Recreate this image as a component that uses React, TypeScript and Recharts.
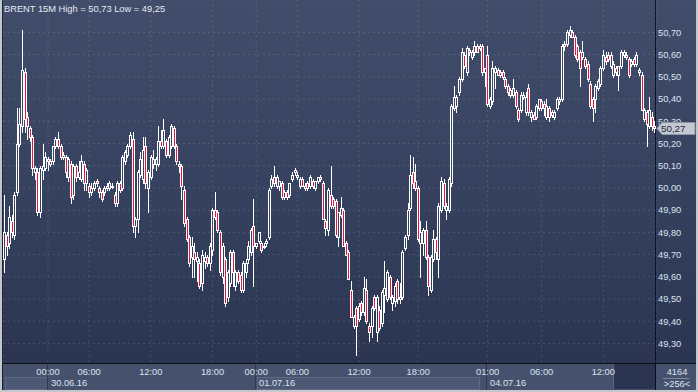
import { ComposedChart, Bar, XAxis, YAxis, CartesianGrid } from 'recharts'

// BRENT 15M candles, [open, high, low, close]
const DAY_29 = [
  [49.68, 49.97, 49.62, 49.8], [49.79, 49.8, 49.7, 49.74], [49.75, 49.92, 49.73, 49.87], [49.85, 49.88, 49.78, 49.8],
  [49.79, 49.98, 49.77, 49.97], [49.98, 50.36, 49.97, 50.2], [50.2, 50.36, 50.19, 50.29], [50.28, 50.71, 50.25, 50.53],
  [50.52, 50.54, 50.25, 50.31], [50.32, 50.34, 50.22, 50.28], [50.27, 50.28, 50.21, 50.23], [50.23, 50.24, 50.06, 50.09],
  [50.07, 50.1, 50.04, 50.09], [50.07, 50.09, 49.88, 49.89], [49.89, 50.1, 49.87, 50.09], [50.08, 50.2, 50.04, 50.1],
  [50.09, 50.16, 50.08, 50.14],
]

const DAY_30 = [
  [50.13, 50.14, 50.08, 50.12], [50.11, 50.13, 50.1, 50.12], [50.12, 50.19, 50.11, 50.19], [50.19, 50.23, 50.18, 50.22],
  [50.22, 50.25, 50.18, 50.19], [50.19, 50.2, 50.13, 50.14], [50.14, 50.16, 50.13, 50.15], [50.14, 50.15, 50.05, 50.07],
  [50.05, 50.14, 50.03, 50.13], [50.11, 50.12, 49.93, 49.96], [49.97, 50.11, 49.95, 50.1], [50.1, 50.11, 50.03, 50.05],
  [50.05, 50.12, 50.04, 50.07], [50.04, 50.15, 50.03, 50.12], [50.11, 50.12, 49.99, 50.02], [50.02, 50.09, 49.99, 50.08],
  [50.01, 50.02, 49.96, 49.98], [49.98, 50.02, 49.97, 50.0], [50.0, 50.03, 49.99, 50.02], [50.03, 50.04, 50.01, 50.02],
  [50.0, 50.01, 49.96, 49.98], [49.98, 49.99, 49.94, 49.95], [49.98, 50.01, 49.97, 50.0], [50.01, 50.02, 49.99, 50.0],
  [50.0, 50.03, 49.99, 50.02], [50.01, 50.02, 50.0, 50.01], [49.97, 49.98, 49.92, 49.93], [49.93, 50.03, 49.92, 50.02],
  [50.02, 50.03, 49.98, 49.99], [50.0, 50.15, 49.99, 50.14], [50.12, 50.17, 50.11, 50.16], [50.15, 50.2, 50.14, 50.19],
  [50.19, 50.25, 50.18, 50.24], [50.22, 50.25, 49.8, 49.83], [49.83, 49.87, 49.78, 49.86], [49.86, 50.08, 49.8, 50.07],
  [50.06, 50.16, 50.05, 50.13], [50.04, 50.23, 50.02, 50.17], [50.19, 50.23, 50.0, 50.02], [50.0, 50.08, 49.89, 50.07],
  [50.05, 50.15, 50.04, 50.14], [50.11, 50.17, 50.09, 50.13], [50.11, 50.14, 50.08, 50.13], [50.11, 50.28, 50.1, 50.21],
  [50.21, 50.26, 50.18, 50.19], [50.19, 50.31, 50.18, 50.26], [50.21, 50.22, 50.14, 50.15], [50.15, 50.24, 50.14, 50.23],
  [50.19, 50.29, 50.18, 50.28], [50.27, 50.28, 50.18, 50.19], [50.19, 50.2, 50.11, 50.12], [50.11, 50.12, 50.07, 50.1],
  [50.1, 50.11, 49.95, 50.01], [49.99, 50.01, 49.83, 49.84], [49.86, 49.87, 49.76, 49.77], [49.78, 49.79, 49.65, 49.66],
  [49.69, 49.78, 49.6, 49.74], [49.71, 49.75, 49.6, 49.68], [49.67, 49.71, 49.58, 49.69], [49.66, 49.68, 49.55, 49.56],
  [49.57, 49.72, 49.54, 49.7], [49.67, 49.71, 49.64, 49.69], [49.69, 49.7, 49.65, 49.66], [49.66, 49.75, 49.63, 49.74],
  [49.72, 49.91, 49.7, 49.9], [49.9, 49.98, 49.86, 49.87], [49.89, 49.9, 49.8, 49.81], [49.8, 49.81, 49.61, 49.62],
  [49.6, 49.75, 49.57, 49.74], [49.68, 49.69, 49.47, 49.48], [49.51, 49.63, 49.49, 49.62], [49.57, 49.72, 49.56, 49.71],
  [49.71, 49.72, 49.56, 49.62], [49.56, 49.63, 49.54, 49.62], [49.62, 49.63, 49.57, 49.58], [49.61, 49.62, 49.53, 49.54],
  [49.54, 49.67, 49.53, 49.66], [49.62, 49.68, 49.6, 49.66], [49.68, 49.76, 49.66, 49.74], [49.71, 49.82, 49.7, 49.81],
  [49.83, 49.95, 49.56, 49.74],
]

const DAY_01 = [
  [49.74, 49.75, 49.73, 49.75], [49.76, 49.8, 49.75, 49.8], [49.75, 49.76, 49.71, 49.72], [49.74, 49.75, 49.73, 49.74],
  [49.75, 49.77, 49.74, 49.76], [49.78, 50.0, 49.77, 49.99], [50.01, 50.06, 50.0, 50.04], [50.05, 50.1, 50.01, 50.02],
  [50.01, 50.06, 50.0, 50.05], [50.01, 50.03, 49.99, 50.03], [50.02, 50.03, 49.95, 49.96], [49.96, 49.99, 49.95, 49.98],
  [49.98, 49.99, 49.95, 49.96], [49.97, 50.02, 49.96, 50.02], [50.04, 50.07, 50.03, 50.06], [50.07, 50.09, 50.06, 50.08],
  [50.05, 50.07, 50.04, 50.06], [50.01, 50.05, 50.0, 50.04], [50.04, 50.05, 50.01, 50.01], [50.0, 50.02, 49.99, 50.01],
  [50.02, 50.03, 49.99, 50.0], [50.01, 50.06, 50.0, 50.05], [50.03, 50.04, 50.0, 50.01], [50.0, 50.03, 49.99, 50.03],
  [50.03, 50.05, 50.02, 50.05], [50.05, 50.06, 50.03, 50.04], [50.02, 50.03, 49.86, 49.86], [49.85, 49.86, 49.79, 49.82],
  [49.81, 50.0, 49.79, 49.99], [49.97, 50.1, 49.91, 49.92], [49.95, 49.96, 49.91, 49.92], [49.94, 49.95, 49.78, 49.79],
  [49.78, 49.89, 49.74, 49.89], [49.88, 49.96, 49.87, 49.91], [49.9, 49.91, 49.74, 49.74], [49.75, 49.76, 49.7, 49.7],
  [49.71, 49.72, 49.59, 49.59], [49.54, 49.58, 49.42, 49.42], [49.38, 49.43, 49.37, 49.42], [49.46, 49.47, 49.25, 49.38],
  [49.41, 49.48, 49.4, 49.47], [49.48, 49.49, 49.43, 49.44], [49.44, 49.6, 49.43, 49.55], [49.54, 49.59, 49.39, 49.4],
  [49.38, 49.39, 49.31, 49.35], [49.38, 49.47, 49.33, 49.46], [49.51, 49.52, 49.45, 49.46], [49.35, 49.52, 49.31, 49.51],
  [49.45, 49.47, 49.36, 49.37], [49.39, 49.54, 49.38, 49.53], [49.52, 49.67, 49.44, 49.55], [49.5, 49.63, 49.49, 49.62],
  [49.6, 49.61, 49.5, 49.51], [49.48, 49.52, 49.45, 49.51], [49.49, 49.57, 49.47, 49.56], [49.58, 49.59, 49.48, 49.5],
  [49.5, 49.57, 49.48, 49.51], [49.51, 49.72, 49.5, 49.71], [49.73, 49.79, 49.72, 49.78], [49.79, 49.93, 49.77, 49.9],
  [49.91, 50.15, 49.9, 50.06], [50.07, 50.14, 50.0, 50.02], [50.03, 50.11, 49.99, 50.0], [50.0, 50.01, 49.76, 49.77],
  [49.75, 49.85, 49.6, 49.8], [49.75, 49.82, 49.7, 49.81], [49.81, 49.85, 49.68, 49.69], [49.69, 49.7, 49.52, 49.56],
  [49.54, 49.7, 49.53, 49.69], [49.68, 49.81, 49.67, 49.77], [49.77, 49.78, 49.68, 49.71], [49.68, 49.93, 49.6, 49.92],
  [49.9, 50.05, 49.89, 50.03], [50.02, 50.04, 49.91, 49.92], [49.9, 49.93, 49.86, 49.92], [49.9, 50.05, 49.89, 50.04],
  [50.02, 50.38, 50.01, 50.37], [50.36, 50.46, 50.35, 50.41], [50.37, 50.42, 50.34, 50.41], [50.43, 50.5, 50.42, 50.49],
  [50.49, 50.63, 50.48, 50.61], [50.6, 50.61, 50.54, 50.55], [50.52, 50.64, 50.51, 50.63], [50.62, 50.63, 50.6, 50.61],
  [50.59, 50.62, 50.58, 50.61], [50.61, 50.66, 50.6, 50.64], [50.64, 50.65, 50.61, 50.61], [50.63, 50.65, 50.62, 50.64],
  [50.64, 50.65, 50.51, 50.52], [50.52, 50.54, 50.46, 50.54],
]

const DAY_04 = [
  [50.6, 50.64, 50.37, 50.38], [50.37, 50.41, 50.36, 50.4], [50.39, 50.57, 50.38, 50.54], [50.52, 50.55, 50.45, 50.54],
  [50.53, 50.54, 50.51, 50.51], [50.51, 50.53, 50.5, 50.52], [50.52, 50.53, 50.49, 50.5], [50.49, 50.5, 50.45, 50.46],
  [50.46, 50.47, 50.42, 50.43], [50.42, 50.45, 50.41, 50.44], [50.42, 50.49, 50.41, 50.45], [50.43, 50.44, 50.36, 50.37],
  [50.35, 50.36, 50.3, 50.31], [50.35, 50.43, 50.34, 50.42], [50.41, 50.43, 50.4, 50.42], [50.34, 50.43, 50.33, 50.41],
  [50.45, 50.47, 50.33, 50.34], [50.32, 50.35, 50.3, 50.34], [50.33, 50.34, 50.31, 50.31], [50.32, 50.38, 50.31, 50.37],
  [50.36, 50.4, 50.35, 50.4], [50.39, 50.4, 50.35, 50.36], [50.38, 50.39, 50.33, 50.36], [50.32, 50.4, 50.31, 50.37],
  [50.36, 50.37, 50.3, 50.32], [50.33, 50.35, 50.32, 50.34], [50.32, 50.35, 50.31, 50.34], [50.36, 50.41, 50.35, 50.4],
  [50.39, 50.41, 50.38, 50.4], [50.4, 50.65, 50.39, 50.64], [50.65, 50.66, 50.62, 50.64], [50.65, 50.71, 50.64, 50.7],
  [50.69, 50.73, 50.68, 50.71], [50.7, 50.71, 50.68, 50.68], [50.68, 50.69, 50.59, 50.6], [50.64, 50.65, 50.57, 50.58],
  [50.61, 50.62, 50.46, 50.54], [50.59, 50.66, 50.58, 50.61], [50.58, 50.59, 50.54, 50.55], [50.56, 50.57, 50.48, 50.49],
  [50.47, 50.48, 50.36, 50.37], [50.4, 50.41, 50.3, 50.36], [50.4, 50.47, 50.34, 50.46], [50.45, 50.49, 50.44, 50.48],
  [50.47, 50.55, 50.46, 50.54], [50.54, 50.62, 50.53, 50.6], [50.59, 50.61, 50.56, 50.57], [50.6, 50.61, 50.57, 50.58],
  [50.55, 50.61, 50.54, 50.6], [50.51, 50.57, 50.5, 50.56], [50.54, 50.55, 50.51, 50.52], [50.51, 50.55, 50.44, 50.55],
  [50.55, 50.62, 50.54, 50.61], [50.6, 50.62, 50.59, 50.61], [50.6, 50.61, 50.58, 50.59], [50.58, 50.59, 50.5, 50.51],
  [50.56, 50.58, 50.55, 50.57], [50.58, 50.59, 50.55, 50.56], [50.56, 50.61, 50.55, 50.6], [50.52, 50.54, 50.51, 50.53],
  [50.51, 50.52, 50.35, 50.35], [50.31, 50.36, 50.3, 50.35], [50.34, 50.35, 50.19, 50.29], [50.28, 50.41, 50.27, 50.35],
  [50.32, 50.34, 50.26, 50.28], [50.28, 50.3, 50.25, 50.27],
]

const Y_TICKS = [49.3, 49.4, 49.5, 49.6, 49.7, 49.8, 49.9, 50.0, 50.1, 50.2, 50.3, 50.4, 50.5, 50.6, 50.7]
const LAST_CLOSE = 50.27

// candle index of each time label on the bottom axis
const TIME_TICKS = [17, 33, 57, 81, 98, 114, 138, 161, 188, 209, 233]
const TIME_LABELS = ['00:00', '06:00', '12:00', '18:00', '00:00', '06:00', '12:00', '18:00', '01:00', '06:00', '12:00']
const DAY_STARTS = [17, 98, 188]
const DAY_LABELS = ['30.06.16', '01.07.16', '04.07.16']
// shaded date boxes, in candle indexes [from, to]
const DATE_BOXES = [[0, 17], [98, 185]]

const candles = [...DAY_29, ...DAY_30, ...DAY_01, ...DAY_04].map(([o, h, l, c], i) => ({ i, o, h, l, c }))

const W = 698
const H = 392
const PLOT_L = 3
const PLOT_R = 656
const BAND = (PLOT_R - PLOT_L) / candles.length
const FONT = '"Liberation Sans", Arial, sans-serif'
const FS = 9.3
const TEXT = '#dbe3f0'
const RED = '#e3173e'
const WICK = '#ffffff'

const fmt = (v: number) => v.toFixed(2).replace('.', ',')

function Candle(props: any) {
  const { x, y, width, height, payload } = props
  if (!payload) return null
  const { o, h, l, c } = payload
  const top = Math.min(y, y + height)
  const px = Math.abs(height) / (h - l)
  const toY = (v: number) => Math.round(top + (h - v) * px)
  const cx = Math.floor(x + width / 2)
  const yH = toY(h)
  const yL = toY(l)
  const b1 = Math.min(toY(o), toY(c))
  const b2 = Math.max(toY(o), toY(c))
  return (
    <g shapeRendering="crispEdges">
      {b1 > yH && <line x1={cx + 0.5} x2={cx + 0.5} y1={yH} y2={b1} stroke={WICK} />}
      {yL > b2 && <line x1={cx + 0.5} x2={cx + 0.5} y1={b2 + 1} y2={yL + 1} stroke={WICK} />}
      <rect x={cx - 0.5} y={b1 + 0.5} width={2} height={Math.max(b2 - b1, 1)} fill={c < o ? RED : 'none'} stroke={WICK} />
    </g>
  )
}

function TimeTick(props: any) {
  const { x, payload } = props
  const v = payload.value
  const k = TIME_TICKS.indexOf(v)
  const d = DAY_STARTS.indexOf(v)
  const x0 = x - BAND / 2
  return (
    <g fontFamily={FONT} fontSize={FS}>
      {DATE_BOXES.filter((b) => b[0] === v || b[1] === v).map((b, j) => {
        const x1 = x0 + (b[0] - v) * BAND
        const x2 = x0 + (b[1] - v) * BAND
        return <rect key={j} x={Math.round(x1) + 2.5} y={377.5} width={Math.round(x2 - x1) - 2} height={12} fill="#4d5974" stroke="#5e6a85" />
      })}
      {d >= 0 && (
        <>
          <line x1={Math.round(x0) + 0.5} x2={Math.round(x0) + 0.5} y1={364} y2={390} stroke="#2f3952" />
          <text x={Math.round(x0) + 4} y={386} fill={TEXT}>{DAY_LABELS[d]}</text>
        </>
      )}
      <text x={x} y={375} textAnchor="middle" fill={TEXT}>{TIME_LABELS[k]}</text>
    </g>
  )
}

// price labels on the right; the last close gets the grey tag, drawn last so it sits on top
function PriceTick(props: any) {
  const { y, payload } = props
  if (payload.value === LAST_CLOSE) {
    const t = Math.round(y) + 0.5
    return (
      <g>
        <path
          d={`M${PLOT_R + 1},${t} L${PLOT_R + 6},${t - 6} L${W - 3},${t - 6} L${W - 3},${t + 6} L${PLOT_R + 6},${t + 6} Z`}
          fill="#c4c9d1"
          stroke="#8e97a8"
        />
        <text x={PLOT_R + 5} y={t + 3.6} fill="#1d2940" fontFamily={FONT} fontSize={FS + 0.5}>
          {fmt(LAST_CLOSE)}
        </text>
      </g>
    )
  }
  return (
    <text x={PLOT_R + 2} y={y + 3.3} fill={TEXT} fontFamily={FONT} fontSize={FS}>
      {fmt(payload.value)}
    </text>
  )
}

export default function App() {
  return (
    <div style={{ position: 'fixed', left: 0, top: 0, width: W, height: H, background: '#c3c7ce', overflow: 'hidden' }}>
      <div style={{ position: 'absolute', left: 2, top: 0, width: 1, height: 390, background: '#1a2030' }} />
      <div
        style={{
          position: 'absolute', left: 3, top: 0, width: 693, height: 363,
          background: 'linear-gradient(to bottom, #414d6b 0%, #36425f 50%, #2b3552 100%)',
        }}
      />
      <div style={{ position: 'absolute', left: 3, top: 364, width: 693, height: 26, background: '#46526d' }} />
      <div style={{ position: 'absolute', left: 613, top: 364, width: 42, height: 25, background: '#2b3450', borderLeft: '1px solid #5a6581', boxSizing: 'border-box' }} />
      <div style={{ position: 'absolute', left: 3, top: 363, width: 693, height: 1, background: '#0a0e16' }} />
      <div style={{ position: 'absolute', left: 655, top: 0, width: 1, height: 390, background: '#0a0e16' }} />

      <div style={{ position: 'absolute', left: 0, top: 0 }}>
        <ComposedChart width={W} height={H} data={candles} margin={{ top: 0, right: 0, bottom: 0, left: PLOT_L }} barCategoryGap={0} barGap={0}>
          <CartesianGrid yAxisId="p" horizontalValues={Y_TICKS} stroke="#ffffff" strokeOpacity={0.13} strokeDasharray="2 3" />
          <XAxis
            dataKey="i"
            type="category"
            ticks={TIME_TICKS}
            interval={0}
            height={29}
            axisLine={false}
            tickLine={false}
            tick={<TimeTick />}
          />
          <YAxis
            yAxisId="p"
            orientation="right"
            type="number"
            domain={[49.212, 50.846]}
            ticks={[...Y_TICKS, LAST_CLOSE]}
            interval={0}
            width={42}
            axisLine={false}
            tickLine={false}
            tick={<PriceTick />}
            allowDataOverflow
          />
          <Bar yAxisId="p" dataKey={(d: any) => [d.l, d.h]} shape={<Candle />} isAnimationActive={false} />
        </ComposedChart>
      </div>

      <svg width={W} height={H} style={{ position: 'absolute', left: 0, top: 0, pointerEvents: 'none' }} fontFamily={FONT} fontSize={FS}>
        <text x={4} y={11.5} fill="#e6ebf4">BRENT 15M High = 50,73 Low = 49,25</text>
        <text x={677} y={375} textAnchor="middle" fill={TEXT}>4164</text>
        <line x1={663} x2={689} y1={378.5} y2={378.5} stroke="#7f889b" />
        <text x={677} y={387} textAnchor="middle" fill={TEXT}>{'>256<'}</text>
      </svg>
    </div>
  )
}
